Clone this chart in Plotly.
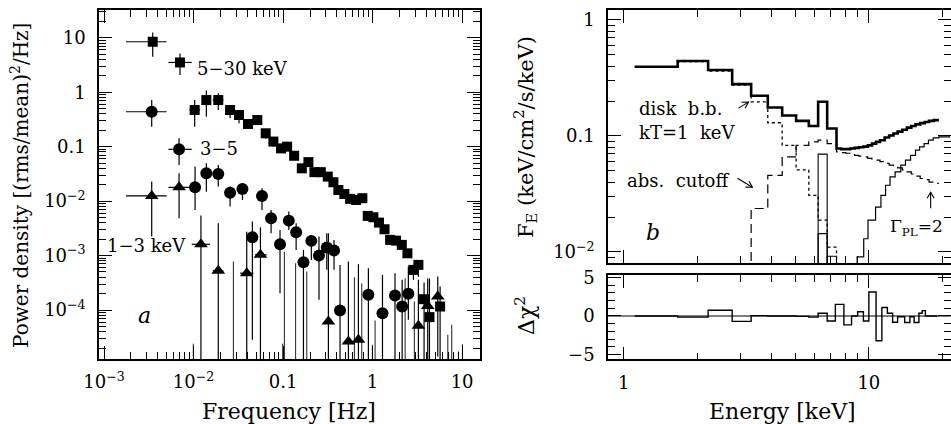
import math
import plotly.graph_objects as go

# ================= Panel a : power density spectra =================
# 5-30 keV (squares)
sq_f = [0.00350, 0.00706, 0.0103, 0.0139, 0.0189, 0.0256, 0.0322, 0.0406, 0.0516, 0.064,
        0.078, 0.095, 0.111, 0.133, 0.162, 0.192, 0.224, 0.264, 0.316, 0.365,
        0.415, 0.484, 0.561, 0.654, 0.769, 0.883, 1.02, 1.18, 1.36, 1.57,
        1.83, 2.12, 2.45, 2.86, 3.25, 3.76, 4.32, 5.68]
sq_p = [8.45, 3.52, 0.471, 0.718, 0.718, 0.471, 0.381, 0.261, 0.308, 0.176,
        0.124, 0.093, 0.100, 0.068, 0.040, 0.052, 0.034, 0.034, 0.0282, 0.0222,
        0.0160, 0.0135, 0.0110, 0.0105, 0.0113, 0.00535, 0.00505, 0.00403, 0.00304, 0.00194,
        0.00188, 0.00157, 0.00110, 0.000546, 0.000674, 0.000158, 7.4e-5, 1.16e-4]
sq_hi = [12.5, 5.16, 0.718, 1.07, 0.953, 0.582, 0.471, 0.308, 0.37, 0.21,
         0.15, 0.11, 0.118, 0.08, 0.047, 0.06, 0.039, 0.038, 0.032, 0.025,
         0.018, 0.015, 0.0122, 0.0115, 0.0124, 0.0059, 0.0055, 0.0044, 0.0033, 0.0021,
         0.0021, 0.0017, 0.00125, 0.000674, 0.00083, 0.00032, 0.00038, 0.00027]
sq_lo = [4.48, 2.07, 0.233, 0.355, 0.471, 0.331, 0.268, 0.217, 0.25, 0.14,
         0.10, 0.078, 0.085, 0.058, 0.033, 0.045, 0.030, 0.030, 0.025, 0.0195,
         0.0142, 0.0120, 0.0099, 0.0095, 0.0102, 0.0048, 0.0046, 0.0036, 0.0027, 0.0017,
         0.0017, 0.0014, 0.00095, 0.000358, 0.00041, 1e-6, 1e-6, 1e-6]
sq_flo = [0.00176, 0.00524, 0.00897, 0.01265, 0.01637, 0.0235] + [None] * 32
sq_fhi = [0.00501, 0.00955, 0.01183, 0.01555, 0.02155, 0.0284] + [None] * 32

# 3-5 keV (circles)
ci_f = [0.00341, 0.00689, 0.0104, 0.0139, 0.0189, 0.0256, 0.0352, 0.0454, 0.0582, 0.0735,
        0.0925, 0.116, 0.140, 0.169, 0.207, 0.252, 0.308, 0.371, 0.433, 0.898,
        1.29, 1.78, 2.14, 2.51]
ci_p = [0.438, 0.0893, 0.0179, 0.0324, 0.0315, 0.0143, 0.0167, 0.00217, 0.0124, 0.00484,
        0.00161, 0.00438, 0.00268, 0.000755, 0.00186, 0.00100, 0.00140, 0.00124, 9.8e-5, 1.9e-4,
        8.75e-5, 1.85e-4, 1.16e-4, 1.98e-4]
ci_hi = [0.718, 0.142, 0.0430, 0.0494, 0.0461, 0.0185, 0.0212, 0.00421, 0.0172, 0.00689,
         0.00296, 0.00641, 0.00392, 0.00127, 0.00239, 0.00223, 0.00257, 0.00194, 0.000674, 0.000586,
         0.000441, 0.000474, 0.000358, 0.000628]
ci_lo = [0.233, 0.0461, 0.00689, 0.0149, 0.0185, 0.00792, 0.0105, 2.84e-5, 0.00689, 0.00257,
         0.000204, 0.00296, 0.00127, 1e-6, 0.000832, 0.000154, 0.000546, 0.000546, 1e-6, 1e-6,
         1e-6, 1e-6, 1e-6, 6.6e-5]
ci_flo = [0.00176, 0.00524, None, None, 0.01637] + [None] * 19
ci_fhi = [0.00501, 0.00955, None, None, 0.0216] + [None] * 19

# 1-3 keV (triangles)
tr_f = [0.00341, 0.00689, 0.0121, 0.0189, 0.0393, 0.0559, 0.321, 0.537, 0.695, 3.25, 4.13, 5.35]
tr_p = [0.01245, 0.0179, 0.00161, 0.000524, 0.000474, 0.00103, 6.15e-5, 2.64e-5, 2.84e-5,
        5.12e-5, 0.000119, 0.000177]
tr_hi = [0.0228, 0.0324, 0.00542, 0.00392, 0.00275, 0.00331, 0.00257, 0.000776, 0.000693,
         0.000358, 0.00038, 0.000412]
tr_lo = [0.00223, 0.00484, 1e-6, 1e-6, 1e-6, 1e-6, 1e-6, 1e-6, 1e-6, 1e-6, 1e-6, 1.4e-5]
tr_flo = [0.00176, 0.00524, 0.00955, 0.01637, 0.0331, 0.0486] + [None] * 6
tr_fhi = [0.00501, 0.00955, 0.01527, 0.0216, 0.0467, 0.0657] + [None] * 6

# error bars of points that fall below the plotted range (upper ends only)
ul_f = [0.00995, 0.0279, 0.0991, 0.1035, 0.138, 0.184, 0.627, 0.757, 0.996, 1.067,
        2.31, 2.93, 6.92, 7.66, 9.1, 10.1]
ul_top = [2.39e-5, 7.76e-4, 2.39e-5, 0.00118, 0.000723, 0.000508, 0.0004, 0.00031, 2.3e-5, 6.4e-5,
          0.000384, 0.000143, 3.5e-5, 5.35e-5, 1.73e-5, 2.36e-5]
FLOOR_A = 1e-6

# ================= Panel b : energy spectrum model =================
E_main = [1.109, 1.66, 2.21, 2.77, 3.31, 3.87, 4.43, 5.05, 5.69, 6.21, 6.76, 7.38]
total_main = [0.395, 0.443, 0.370, 0.280, 0.222, 0.176, 0.150, 0.135, 0.122, 0.197, 0.116]
E_fine = [7.38, 7.7, 8.05, 8.4, 8.75, 9.1, 9.5, 9.9, 10.3, 10.7, 11.1, 11.6, 12.1, 12.6,
          13.1, 13.7, 14.3, 14.9, 15.5, 16.2, 16.9, 17.6, 18.4, 19.3]
total_fine = [0.078, 0.077, 0.077, 0.078, 0.079, 0.080, 0.081, 0.083, 0.086, 0.089, 0.092, 0.097,
              0.101, 0.105, 0.109, 0.113, 0.118, 0.122, 0.126, 0.129, 0.132, 0.135, 0.137]

disk_E = [1.109, 1.66, 2.21, 2.77, 3.31, 3.87, 4.43, 5.05, 5.69, 6.21, 6.76, 7.38, 7.7]
disk_F = [0.39, 0.437, 0.362, 0.275, 0.197, 0.130, 0.083, 0.051, 0.0308, 0.0188, 0.0110, 0.006]

pl_E = [2.77, 3.31, 3.87, 4.43, 5.05, 5.69, 6.21, 6.76, 7.38]
pl_main = [0.001, 0.0237, 0.0458, 0.066, 0.083, 0.089, 0.092, 0.086]
pl_fine = [0.073, 0.072, 0.071, 0.069, 0.068, 0.067, 0.066, 0.064, 0.063, 0.062, 0.060, 0.058,
           0.056, 0.054, 0.053, 0.051, 0.049, 0.047, 0.045, 0.043, 0.042, 0.040, 0.039]

hard_E = [8.96, 9.53, 9.92, 10.65, 11.2, 11.7, 12.2, 12.8, 13.5, 14.1, 14.8, 15.5, 16.1, 16.8,
          17.5, 18.3, 19.3]
hard_F = [0.00906, 0.0130, 0.0188, 0.0244, 0.0308, 0.0376, 0.0444, 0.049, 0.056, 0.0618, 0.068,
          0.0755, 0.0806, 0.086, 0.092, 0.0964, 0.0984]

# narrow line components (bin low edge, bin high edge, height)
box_lo = [6.21, 6.21, 6.76]
box_hi = [6.76, 6.76, 7.38]
box_top = [0.0697, 0.0144, 0.0092]
FLOOR_B = 0.001

# residuals
res_E = [1.109, 1.66, 2.21, 2.77, 3.31, 3.87, 5.05, 5.69, 6.21, 6.76, 7.30, 7.91, 8.50, 9.0,
         9.5, 10.0, 10.7, 11.3, 11.9, 12.5, 13.1, 14.0, 14.7, 15.3, 16.0, 16.5, 17.0, 19.0]
res_v = [0.0, -0.15, 0.75, -0.7, 0.05, 0.0, -0.05, -0.15, 0.35, -0.65, 1.5, -1.15, 0.0, 0.55,
         -0.65, 3.1, -3.2, 1.1, 0.35, -0.8, -0.1, -0.85, -0.1, -0.85, 0.35, 0.7, 0.0]

# ================= figure =================
FONT = "DejaVu Serif"
W, H = 951, 424
fig = go.Figure()

XB_RANGE = [-0.064, 1.333]
YB_RANGE = [-2.095, 0.086]
xa_dom = [99 / W, 480 / W]
xb_dom = [608 / W, 950.5 / W]
ya_dom = [1 - 359 / H, 1 - 10 / H]
yb_dom = [1 - 263 / H, 1 - 10 / H]
yc_dom = [1 - 359.3 / H, 1 - 275 / H]


def add_series(f, p, lo, hi, flo, fhi, symbol, size):
    fig.add_trace(go.Scatter(
        x=f, y=p, mode="markers", xaxis="x", yaxis="y", showlegend=False,
        marker=dict(symbol=symbol, size=size, color="black", line=dict(width=0)),
        error_y=dict(type="data", symmetric=False,
                     array=[h - v for v, h in zip(p, hi)],
                     arrayminus=[v - l for v, l in zip(p, lo)],
                     color="black", thickness=1.2, width=0),
        error_x=dict(type="data", symmetric=False,
                     array=[(b - v) if b else 0 for v, b in zip(f, fhi)],
                     arrayminus=[(v - a) if a else 0 for v, a in zip(f, flo)],
                     color="black", thickness=1.2, width=0),
    ))


vx, vy = [], []
for f, t in zip(ul_f, ul_top):
    vx += [f, f, None]
    vy += [FLOOR_A, t, None]
fig.add_trace(go.Scatter(x=vx, y=vy, mode="lines", xaxis="x", yaxis="y", showlegend=False,
                         line=dict(color="#333333", width=1.1)))

add_series(sq_f, sq_p, sq_lo, sq_hi, sq_flo, sq_fhi, "square", 10)
add_series(ci_f, ci_p, ci_lo, ci_hi, ci_flo, ci_fhi, "circle", 12)
add_series(tr_f, tr_p, tr_lo, tr_hi, tr_flo, tr_fhi, "triangle-up", 12)

# ---- panel b traces ----
for a, b, t in zip(box_lo, box_hi, box_top):
    fig.add_trace(go.Scatter(x=[a, a, b, b], y=[FLOOR_B, t, t, FLOOR_B], mode="lines",
                             xaxis="x2", yaxis="y2", showlegend=False,
                             line=dict(color="black", width=1.1)))

fig.add_trace(go.Scatter(x=disk_E, y=disk_F + [disk_F[-1]], mode="lines", line_shape="hv",
                         xaxis="x2", yaxis="y2", showlegend=False,
                         line=dict(color="black", width=1.3, dash="dot")))
pl_x = pl_E + E_fine[1:]
pl_y = pl_main + pl_fine
fig.add_trace(go.Scatter(x=pl_x, y=pl_y + [pl_y[-1]], mode="lines", line_shape="hv",
                         xaxis="x2", yaxis="y2", showlegend=False,
                         line=dict(color="black", width=1.2, dash="9px,5px")))
fig.add_trace(go.Scatter(x=[hard_E[0]] + hard_E + [10 ** XB_RANGE[1]],
                         y=[FLOOR_B] + hard_F + [hard_F[-1]],
                         mode="lines", line_shape="hv", xaxis="x2", yaxis="y2", showlegend=False,
                         line=dict(color="black", width=1.2)))
tot_x = E_main + E_fine[1:]
tot_y = total_main + total_fine
fig.add_trace(go.Scatter(x=tot_x, y=tot_y + [tot_y[-1]], mode="lines", line_shape="hv",
                         xaxis="x2", yaxis="y2", showlegend=False,
                         line=dict(color="black", width=2.6)))

fig.add_trace(go.Scatter(x=res_E, y=res_v + [res_v[-1]], mode="lines", line_shape="hv",
                         xaxis="x3", yaxis="y3", showlegend=False,
                         line=dict(color="black", width=1.4)))

# ---- arrows of panel b, drawn as line traces (tail -> head with open V head) ----
px_per_dec_x = (xb_dom[1] - xb_dom[0]) * W / (XB_RANGE[1] - XB_RANGE[0])
px_per_dec_y = (yb_dom[1] - yb_dom[0]) * H / (YB_RANGE[1] - YB_RANGE[0])
arrows = [  # (tail logE, tail logF), (head logE, head logF)
    ((0.468, -0.760), (0.509, -0.708)),
    ((0.464, -1.364), (0.525, -1.442)),
    ((1.252, -1.623), (1.252, -1.485)),
]
ax_x, ax_y = [], []
for (tx, ty), (hx, hy) in arrows:
    dxp = (hx - tx) * px_per_dec_x
    dyp = (hy - ty) * px_per_dec_y
    n = math.hypot(dxp, dyp)
    ux, uy = dxp / n, dyp / n
    qx, qy = -uy, ux
    hl, hw = 6.0, 3.5
    b1 = (hx + (-hl * ux + hw * qx) / px_per_dec_x, hy + (-hl * uy + hw * qy) / px_per_dec_y)
    b2 = (hx + (-hl * ux - hw * qx) / px_per_dec_x, hy + (-hl * uy - hw * qy) / px_per_dec_y)
    seq = [(tx, ty), (hx, hy), None, b1, (hx, hy), b2, None]
    for pt in seq:
        if pt is None:
            ax_x.append(None)
            ax_y.append(None)
        else:
            ax_x.append(10 ** pt[0])
            ax_y.append(10 ** pt[1])
fig.add_trace(go.Scatter(x=ax_x, y=ax_y, mode="lines", xaxis="x2", yaxis="y2", showlegend=False,
                         line=dict(color="black", width=1.1)))


def minor_log(e0, e1):
    return [k * 10 ** e for e in range(e0, e1) for k in range(2, 10)]


tickfont = dict(family=FONT, size=18, color="black")
common = dict(showline=True, linecolor="black", linewidth=1.5, mirror="ticks", ticks="inside",
              ticklen=13, tickwidth=1.2, tickcolor="black", showgrid=False, zeroline=False,
              tickfont=tickfont)
minor_common = dict(ticks="inside", ticklen=7, tickwidth=1.1, tickcolor="black", showgrid=False)

fig.update_layout(
    width=W, height=H, margin=dict(l=0, r=0, t=0, b=0),
    paper_bgcolor="white", plot_bgcolor="white", template="none", showlegend=False,
    font=dict(family=FONT, color="black"),
    xaxis=dict(type="log", range=[-3.056, 1.2], domain=xa_dom, anchor="y",
               tickvals=[1e-3, 1e-2, 0.1, 1, 10],
               ticktext=["10<sup>−3</sup>", "10<sup>−2</sup>", "0.1", "1", "10"],
               minor=dict(tickvals=minor_log(-3, 2), **minor_common),
               ticklabelstandoff=6, **common),
    yaxis=dict(type="log", range=[-4.9, 1.51], domain=ya_dom, anchor="x",
               tickvals=[10, 1, 0.1, 0.01, 1e-3, 1e-4],
               ticktext=["10", "1", "0.1", "10<sup>−2</sup>", "10<sup>−3</sup>", "10<sup>−4</sup>"],
               minor=dict(tickvals=minor_log(-5, 2), **minor_common),
               ticklabelstandoff=8, **common),
    xaxis2=dict(type="log", range=XB_RANGE, domain=xb_dom, anchor="y2",
                tickvals=[1, 10], showticklabels=False,
                minor=dict(tickvals=minor_log(0, 2), **minor_common),
                **common),
    yaxis2=dict(type="log", range=YB_RANGE, domain=yb_dom, anchor="x2",
                tickvals=[1, 0.1, 0.01], ticktext=["1", "0.1", "10<sup>−2</sup>"],
                minor=dict(tickvals=minor_log(-3, 1), **minor_common),
                ticklabelstandoff=8, **common),
    xaxis3=dict(type="log", range=XB_RANGE, domain=xb_dom, anchor="y3",
                tickvals=[1, 10], ticktext=["1", "10"],
                minor=dict(tickvals=minor_log(0, 2), **minor_common),
                ticklabelstandoff=6, **common),
    yaxis3=dict(range=[-5.6, 5.3], domain=yc_dom, anchor="x3",
                tickvals=[5, 0, -5], ticktext=["5", "0", "−5"],
                minor=dict(dtick=1, **minor_common),
                ticklabelstandoff=8, **common),
)

fig.add_shape(type="line", xref="x3 domain", yref="y3", x0=0, x1=1, y0=0, y1=0,
              line=dict(color="black", width=1.1))

ann_font = dict(family=FONT, size=18, color="black")
L = math.log10
anns = [
    dict(x=L(0.0104), y=L(2.78), text="5−30 keV", xanchor="left", yanchor="middle", xref="x", yref="y"),
    dict(x=L(0.0112), y=L(0.0908), text="3−5", xanchor="left", yanchor="middle", xref="x", yref="y"),
    dict(x=L(0.0087), y=L(0.00151), text="1−3 keV", xanchor="right", yanchor="middle", xref="x", yref="y"),
    dict(x=L(0.0028), y=L(7.8e-5), text="<i>a</i>", xanchor="center", yanchor="middle", xref="x", yref="y",
         font=dict(family=FONT, size=22, color="black")),
    dict(x=0.056, y=-0.760, text="disk  b.b.", xanchor="left", yanchor="middle", xref="x2", yref="y2"),
    dict(x=0.056, y=-0.967, text="kT=1  keV", xanchor="left", yanchor="middle", xref="x2", yref="y2"),
    dict(x=0.007, y=-1.382, text="abs.  cutoff", xanchor="left", yanchor="middle", xref="x2", yref="y2"),
    dict(x=1.312, y=-1.79, text="Γ<sub>PL</sub>=2", xanchor="right", yanchor="middle", xref="x2", yref="y2",
         font=dict(family=FONT, size=17, color="black")),
    dict(x=0.121, y=-1.831, text="<i>b</i>", xanchor="center", yanchor="middle", xref="x2", yref="y2",
         font=dict(family=FONT, size=22, color="black")),
]
for a in anns:
    a.setdefault("font", ann_font)
    a["showarrow"] = False
    fig.add_annotation(**a)

titles = [
    dict(x=289 / W, y=1 - 411 / H, text="Frequency [Hz]", textangle=0, size=22),
    dict(x=20 / W, y=1 - 186 / H, text="Power density [(rms/mean)<sup>2</sup>/Hz]", textangle=-90, size=20),
    dict(x=782 / W, y=1 - 411 / H, text="Energy [keV]", textangle=0, size=22),
    dict(x=525 / W, y=1 - 137 / H, text="F<sub>E</sub> (keV/cm<sup>2</sup>/s/keV)", textangle=-90, size=21),
    dict(x=525 / W, y=1 - 316 / H, text="Δχ<sup>2</sup>", textangle=-90, size=22),
]
for t in titles:
    fig.add_annotation(x=t["x"], y=t["y"], xref="paper", yref="paper", text=t["text"],
                       textangle=t["textangle"], showarrow=False, xanchor="center", yanchor="middle",
                       font=dict(family=FONT, size=t["size"], color="black"))

fig.write_html("out.html")
